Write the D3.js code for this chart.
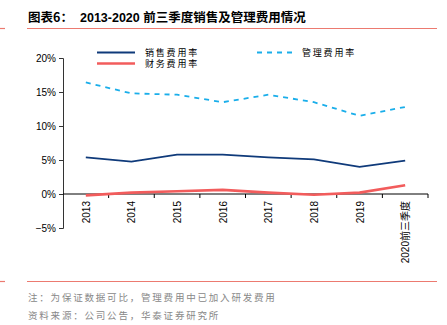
<!DOCTYPE html>
<html lang="zh">
<head>
<meta charset="UTF-8">
<title>2013-2020 前三季度销售及管理费用情况</title>
<style>
  body { margin: 0; background: #fff; }
  svg { display: block; }
  .tick text { font-family: "Liberation Sans", Arial, sans-serif; font-size: 10px; fill: #000; }
  .cjk { font-family: "Noto Sans CJK SC", sans-serif; }
</style>
</head>
<body>
<div id="chart"></div>
<script src="https://cdn.jsdelivr.net/npm/d3@7"></script>
<script>
// years on the x axis
var years = ["2013", "2014", "2015", "2016", "2017", "2018", "2019", "2020前三季度"];
// expense ratios, in %
var sellingRate = [5.4, 4.75, 5.8, 5.8, 5.4, 5.1, 4.0, 4.9];
var adminRate = [16.4, 14.8, 14.6, 13.5, 14.6, 13.5, 11.5, 12.8];
var financeRate = [-0.2, 0.2, 0.4, 0.6, 0.2, -0.1, 0.2, 1.3];
var yTicks = [-5, 0, 5, 10, 15, 20];

var series = [
  { name: "销售费用率", values: sellingRate, color: "#0f3a7a", width: 1.8, dash: null },
  { name: "财务费用率", values: financeRate, color: "#f25c5c", width: 2.6, dash: null },
  { name: "管理费用率", values: adminRate, color: "#1aaeea", width: 1.8, dash: "5,5" }
];

var W = 447, H = 325;
var svg = d3.select("#chart").append("svg").attr("width", W).attr("height", H);

// title + red rules
var accent = "#ec7a70";
svg.append("text").attr("class", "cjk").attr("x", 28).attr("y", 22)
  .attr("font-size", 12.5).attr("font-weight", "bold")
  .text("图表6：");
svg.append("text").attr("x", 80).attr("y", 22)
  .attr("font-size", 12.5).attr("font-weight", "bold")
  .attr("font-family", "'Liberation Sans', 'Noto Sans CJK SC', sans-serif")
  .text("2013-2020 前三季度销售及管理费用情况");
[28.5, 281.5].forEach(function (yy) {
  svg.append("line").attr("x1", 27).attr("x2", 437).attr("y1", yy).attr("y2", yy)
    .attr("stroke", accent).attr("stroke-width", 1.2);
  svg.append("line").attr("x1", 0).attr("x2", 5).attr("y1", yy).attr("y2", yy)
    .attr("stroke", accent).attr("stroke-width", 1.2);
});

// plot area
var plot = { left: 63, right: 428, top: 58, bottom: 228 };
var x = d3.scaleBand().domain(years).range([plot.left, plot.right]);
var y = d3.scaleLinear().domain([-5, 20]).range([plot.bottom, plot.top]);

svg.append("g").attr("transform", "translate(" + plot.left + ",0)")
  .call(d3.axisLeft(y).tickValues(yTicks).tickSize(4).tickPadding(3)
    .tickFormat(function (d) { return d < 0 ? "\u2212" + (-d) + "%" : d + "%"; }))
  .call(function (g) { g.selectAll("path, line").attr("stroke", "#333"); });

var xAxis = svg.append("g").attr("transform", "translate(0," + y(0) + ")");
xAxis.append("line").attr("x1", plot.left).attr("x2", plot.right).attr("stroke", "#000").attr("stroke-width", 1);
xAxis.selectAll("line.tk").data(years).enter().append("line")
  .attr("class", "tk")
  .attr("x1", function (d) { return x(d) + x.bandwidth(); })
  .attr("x2", function (d) { return x(d) + x.bandwidth(); })
  .attr("y1", 0).attr("y2", 4).attr("stroke", "#000");
xAxis.selectAll("text").data(years).enter().append("text")
  .attr("transform", function (d) {
    return "translate(" + (x(d) + x.bandwidth() / 2 + 4) + ",7) rotate(-90)";
  })
  .attr("text-anchor", "end")
  .attr("font-size", 10)
  .attr("font-family", "'Liberation Sans', 'Noto Sans CJK SC', sans-serif")
  .text(function (d) { return d; });

var line = d3.line()
  .x(function (d, i) { return x(years[i]) + x.bandwidth() / 2; })
  .y(function (d) { return y(d); });

series.forEach(function (s) {
  svg.append("path").datum(s.values)
    .attr("fill", "none").attr("stroke", s.color)
    .attr("stroke-width", s.width)
    .attr("stroke-dasharray", s.dash)
    .attr("d", line);
});

// legend
var legend = [
  { s: series[0], x: 97, y: 52.5 },
  { s: series[2], x: 257, y: 52.5 },
  { s: series[1], x: 97, y: 63.5 }
];
legend.forEach(function (l) {
  svg.append("line").attr("x1", l.x).attr("x2", l.x + 38).attr("y1", l.y).attr("y2", l.y)
    .attr("stroke", l.s.color).attr("stroke-width", l.s.width)
    .attr("stroke-dasharray", l.s.dash);
  svg.append("text").attr("class", "cjk").attr("x", l.x + (l.s.dash ? 45 : 48)).attr("y", l.y + 3.5)
    .attr("font-size", 9).attr("letter-spacing", 1.8).text(l.s.name);
});

// notes
svg.append("text").attr("class", "cjk").attr("x", 28).attr("y", 301)
  .attr("font-size", 9.5).attr("letter-spacing", 1.8).attr("fill", "#888")
  .text("注：为保证数据可比，管理费用中已加入研发费用");
svg.append("text").attr("class", "cjk").attr("x", 28).attr("y", 319)
  .attr("font-size", 9.5).attr("letter-spacing", 1.8).attr("fill", "#888")
  .text("资料来源：公司公告，华泰证券研究所");
</script>
</body>
</html>
